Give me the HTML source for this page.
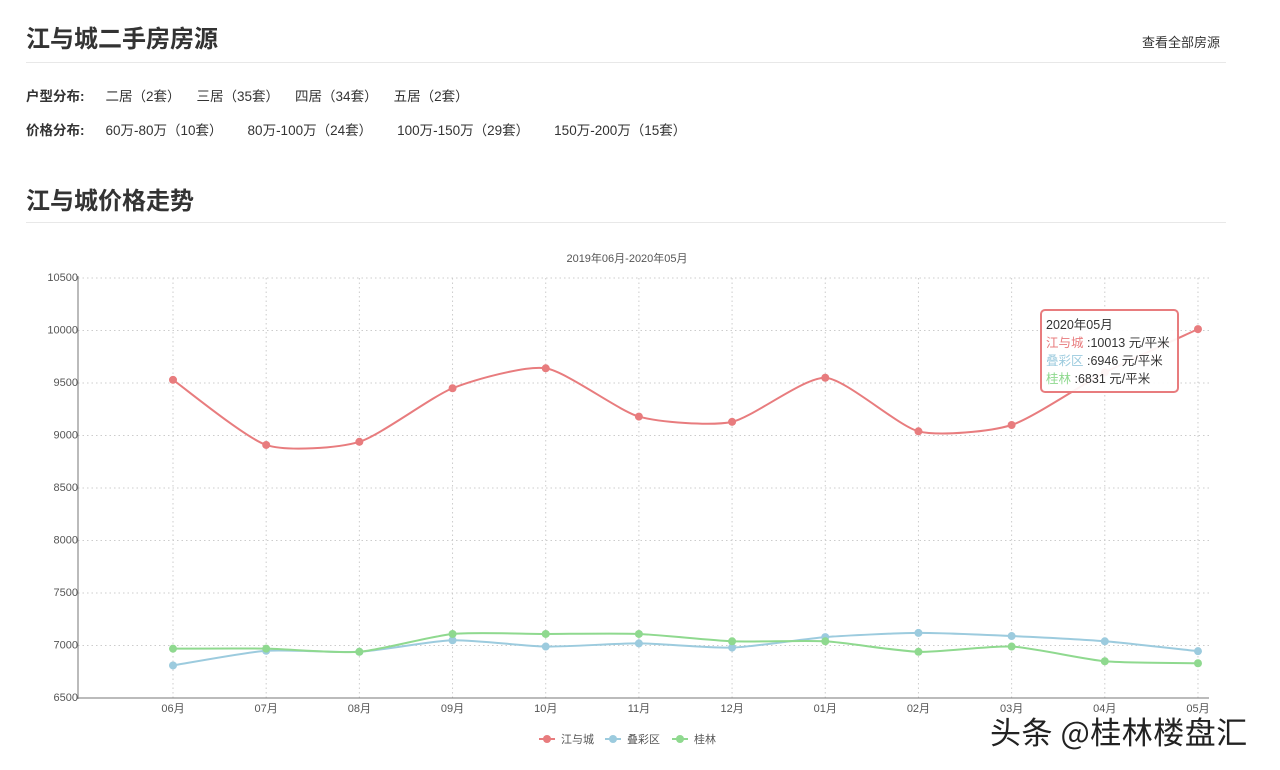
<!DOCTYPE html>
<html><head><meta charset="utf-8">
<style>
body{margin:0;width:1280px;height:770px;background:#fff;font-family:"Liberation Sans","Noto Sans CJK SC",sans-serif;color:#333;position:relative;overflow:hidden}
.a{position:absolute;white-space:nowrap}
h1{position:absolute;margin:0;font-size:24px;font-weight:bold;color:#333;left:26px}
.hr{position:absolute;left:26px;width:1200px;height:1px;background:#e8e8e8}
.row{font-size:13.5px;color:#333}
.row b{margin-right:21px}
.row span{margin-right:25px}
.r1 span{margin-right:16px}
</style></head><body>
<h1 style="top:19px">江与城二手房房源</h1>
<div class="a" style="left:1142px;top:32px;font-size:13px">查看全部房源</div>
<div class="hr" style="top:62px"></div>
<div class="a row r1" style="left:26px;top:85px"><b>户型分布:</b><span>二居（2套）</span><span>三居（35套）</span><span>四居（34套）</span><span>五居（2套）</span></div>
<div class="a row" style="left:26px;top:119px"><b>价格分布:</b><span>60万-80万（10套）</span><span>80万-100万（24套）</span><span>100万-150万（29套）</span><span>150万-200万（15套）</span></div>
<h1 style="top:181px">江与城价格走势</h1>
<div class="hr" style="top:222px"></div>
<svg id="s" class="a" style="left:0;top:0" width="1280" height="770" font-family="Liberation Sans, Noto Sans CJK SC, sans-serif"></svg>
<div class="a" style="left:1040px;top:309px;width:139px;height:84px;border:2px solid #e87c7e;border-radius:5px;background:rgba(255,255,255,0.92);font-size:12.5px;line-height:18px;padding:5px 0 0 4px;box-sizing:border-box;color:#333">
2020年05月<br><span style="color:#e87c7e">江与城</span> :10013 元/平米<br><span style="color:#9ccbde">叠彩区</span> :6946 元/平米<br><span style="color:#8fd98f">桂林</span> :6831 元/平米</div>
<div class="a" style="left:990px;top:708px;font-size:31px;letter-spacing:0.5px;color:#222;font-family:'Noto Sans CJK SC',sans-serif">头条 @桂林楼盘汇</div>
<script>
var s=document.getElementById('s'),h='';
function Y(v){return 698-(v-6500)*0.105}
function X(i){return 173+93.18*i}
h+='<text x="627" y="262" font-size="11" fill="#555" text-anchor="middle">2019年06月-2020年05月</text>';
for(var v=6500;v<=10500;v+=500){var y=Y(v);
 if(v>6500)h+='<line x1="78" x2="1209" y1="'+y+'" y2="'+y+'" stroke="#ccc" stroke-dasharray="1.5,3"/>';
 h+='<text x="78" y="'+(y+3)+'" font-size="11" fill="#555" text-anchor="end">'+v+'</text>';}
var m=['06','07','08','09','10','11','12','01','02','03','04','05'];
for(var i=0;i<12;i++){var x=X(i);
 h+='<line x1="'+x+'" x2="'+x+'" y1="278" y2="698" stroke="#ccc" stroke-dasharray="1.5,3"/>';
 h+='<text x="'+x+'" y="712" font-size="11" fill="#555" text-anchor="middle">'+m[i]+'月</text>';}
h+='<line x1="78" x2="78" y1="276" y2="699" stroke="#777"/><line x1="78" x2="1209" y1="698" y2="698" stroke="#777"/>';
var D=[['#e87c7e',[9530,8910,8940,9450,9640,9180,9130,9550,9040,9100,9600,10013]],
['#9ccbde',[6810,6950,6940,7050,6990,7020,6980,7080,7120,7090,7040,6946]],
['#8fd98f',[6970,6970,6940,7110,7110,7110,7040,7040,6940,6990,6850,6831]]];
D.forEach(function(d){var p=d[1].map(function(v,i){return [X(i),Y(v)]});
 var path='M'+p[0];
 for(var i=0;i<11;i++){var p0=p[Math.max(0,i-1)],p1=p[i],p2=p[i+1],p3=p[Math.min(11,i+2)],t=0.11;
  path+=' C'+(p1[0]+(p2[0]-p0[0])*t)+','+(p1[1]+(p2[1]-p0[1])*t)+' '+(p2[0]-(p3[0]-p1[0])*t)+','+(p2[1]-(p3[1]-p1[1])*t)+' '+p2;}
 h+='<path d="'+path+'" fill="none" stroke="'+d[0]+'" stroke-width="2"/>';
 p.forEach(function(q){h+='<circle cx="'+q[0]+'" cy="'+q[1]+'" r="4" fill="'+d[0]+'"/>'});});
var L=[['江与城',547],['叠彩区',613],['桂林',680]];
L.forEach(function(l,i){h+='<line x1="'+(l[1]-8)+'" x2="'+(l[1]+8)+'" y1="739" y2="739" stroke="'+D[i][0]+'" stroke-width="2"/><circle cx="'+l[1]+'" cy="739" r="4" fill="'+D[i][0]+'"/><text x="'+(l[1]+14)+'" y="743" font-size="11" fill="#555">'+l[0]+'</text>';});
s.innerHTML=h;
</script>
</body></html>
